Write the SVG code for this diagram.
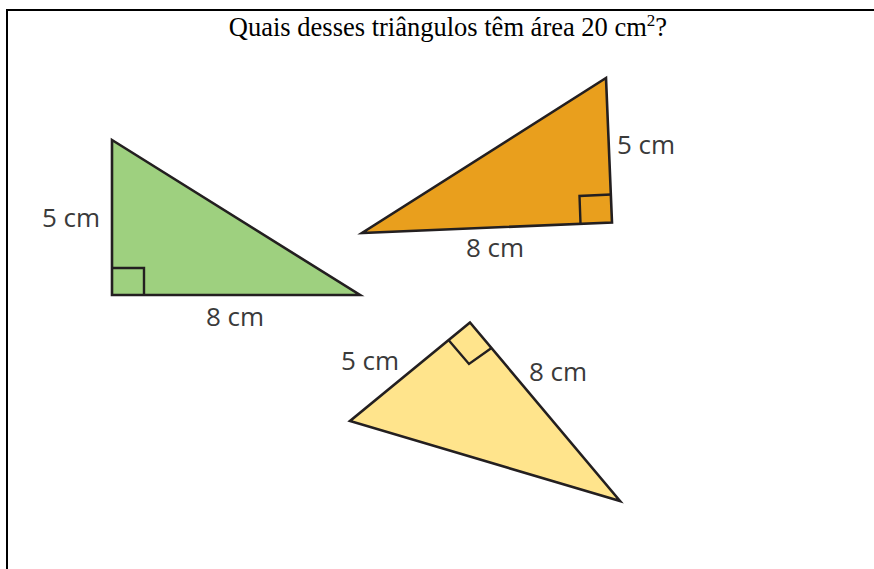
<svg xmlns="http://www.w3.org/2000/svg" width="874" height="569" viewBox="0 0 874 569">
<style>
.tri{stroke:#231f20;stroke-width:2.6;stroke-linejoin:miter}
.ra{fill:none;stroke:#231f20;stroke-width:2.4}
.lbl{font-family:"Open Sans","DejaVu Sans",sans-serif;font-size:26px;fill:#3a3a3a}
.title{font-family:"Liberation Serif","Times New Roman",serif;font-size:26.5px;fill:#000}
</style>
<rect width="874" height="569" fill="#fff"/>
<g id="frame">
<line x1="7" y1="10" x2="874" y2="10" stroke="#000" stroke-width="2"/>
<line x1="7" y1="9" x2="7" y2="569" stroke="#000" stroke-width="2"/>
</g>
<g id="title">
<text class="title" x="448" y="36" text-anchor="middle">Quais desses triângulos têm área 20 cm<tspan font-size="17" dy="-10">2</tspan><tspan dy="10">?</tspan></text>
</g>
<g id="green-triangle">
<polygon class="tri" fill="#9ed07f" points="112,140 112,295 360,295"/>
<polyline class="ra" points="112,268 144,268 144,295"/>
<text class="lbl" x="42" y="226.5">5 cm</text>
<text class="lbl" x="206" y="325.5">8 cm</text>
</g>
<g id="orange-triangle">
<polygon class="tri" fill="#e99f1d" points="606,78 612,222.5 362,233"/>
<polyline class="ra" points="580.5,223.5 579.5,196 611,194.5"/>
<text class="lbl" x="617" y="153.5">5 cm</text>
<text class="lbl" x="466" y="257">8 cm</text>
</g>
<g id="yellow-triangle">
<polygon class="tri" fill="#ffe48c" points="470,322.5 350,421 620,501"/>
<polyline class="ra" points="448.5,340 469,364 491.5,348"/>
<text class="lbl" x="341" y="370">5 cm</text>
<text class="lbl" x="529" y="381">8 cm</text>
</g>
</svg>
